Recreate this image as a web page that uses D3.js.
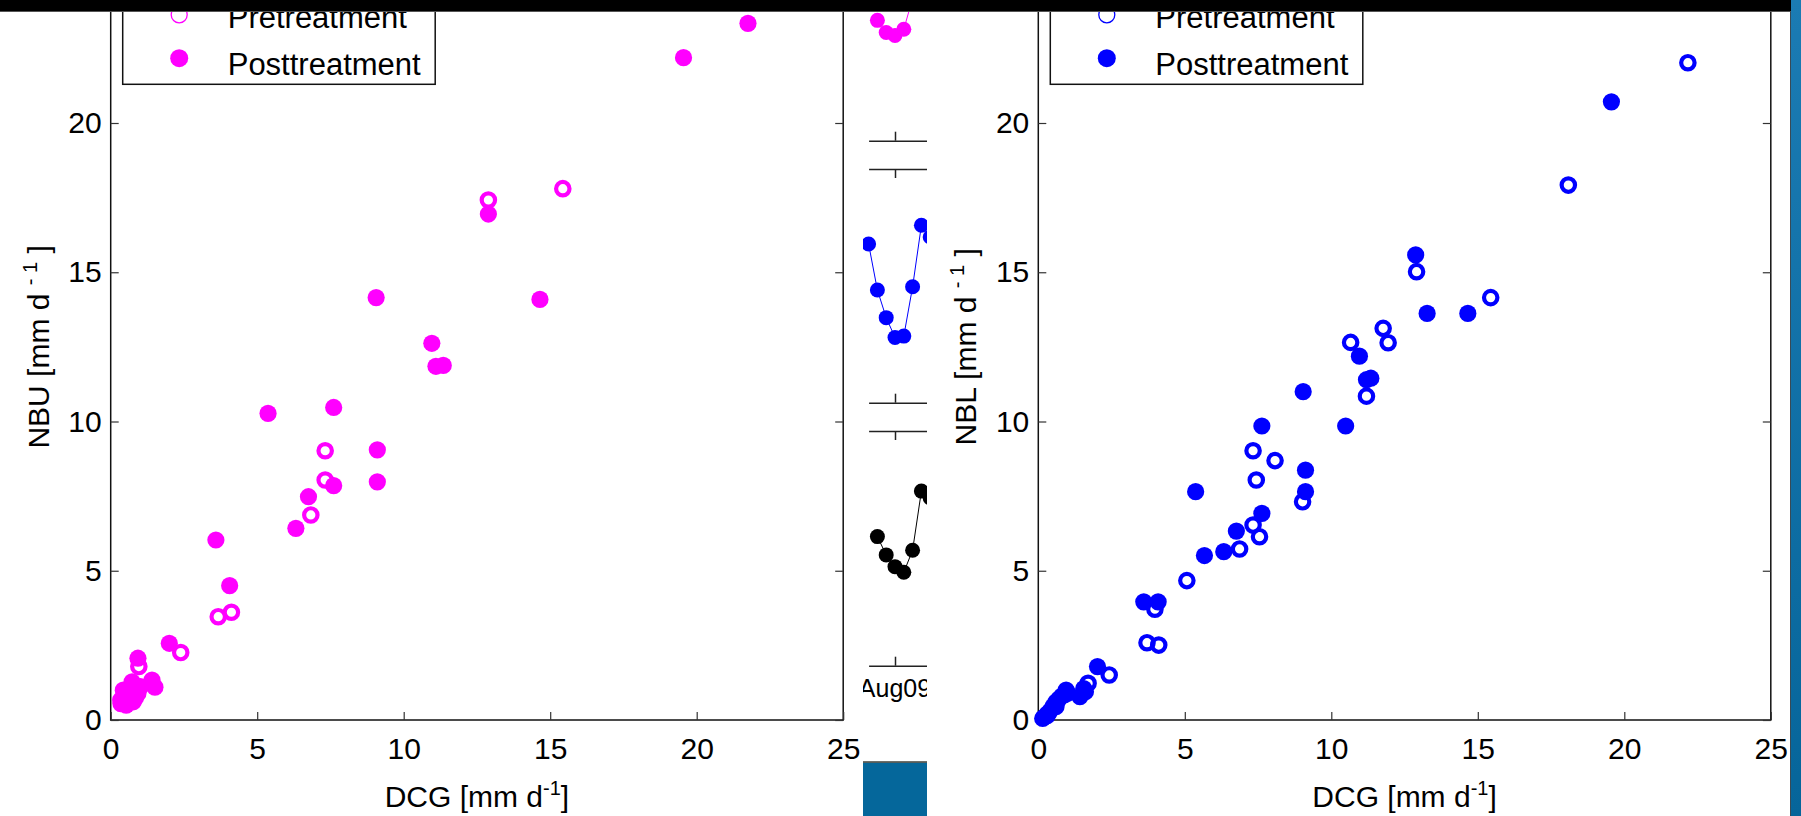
<!DOCTYPE html>
<html>
<head>
<meta charset="utf-8">
<script src="https://cdn.jsdelivr.net/npm/d3@7"></script>
<style>
  body { margin: 0; background: #fff; }
  svg { display: block; font-family: "Liberation Sans", Arial, sans-serif; }
</style>
</head>
<body>
<div id="chart"></div>
<script>
// NBU vs DCG (left panel), [DCG, NBU] in mm/d
const nbuPre = [[12.89,17.42],[15.43,17.80],[7.32,9.02],[7.32,8.04],[6.83,6.87],[3.67,3.46],
  [4.12,3.61],[2.39,2.26],[0.96,1.79]];
const nbuPost = [[21.75,23.34],[19.55,22.19],[12.89,16.95],[9.06,14.15],[14.65,14.09],[10.96,12.62],
  [11.1,11.85],[11.35,11.88],[5.37,10.27],[7.61,10.47],[9.10,9.05],[7.61,7.85],[9.10,7.98],
  [6.75,7.48],[6.32,6.42],[3.59,6.03],[4.06,4.50],[2.00,2.57],[0.93,2.07],[1.41,1.34],[1.51,1.10],
  [0.73,1.28],[0.43,1.0],[0.34,0.67],[0.53,0.50],[0.93,0.89],[0.77,0.61],[1.02,1.12],[0.35,0.55],
  [0.6,0.95],[0.85,0.75]];

// NBL vs DCG (right panel)
const nblPre = [[22.17,22.02],[18.09,17.92],[12.91,15.02],[15.44,14.15],[11.77,13.12],[11.94,12.64],
  [10.66,12.65],[11.2,10.85],[7.33,9.02],[8.08,8.69],[7.44,8.04],[9.02,7.31],[7.33,6.53],[7.55,6.14],
  [6.87,5.73],[5.07,4.67],[3.98,3.71],[3.71,2.59],[4.11,2.51],[2.42,1.51],[1.70,1.23],[0.3,0.15],
  [0.6,0.45],[1.0,0.9]];
const nblPost = [[19.56,20.71],[12.88,15.58],[13.27,13.62],[14.66,13.62],[10.96,12.19],[11.2,11.4],
  [11.35,11.45],[9.04,11.0],[7.63,9.85],[10.49,9.85],[9.12,8.37],[5.37,7.65],[9.12,7.65],[7.63,6.92],
  [6.76,6.33],[6.33,5.64],[5.67,5.51],[3.60,3.96],[4.09,3.96],[2.02,1.79],[1.61,0.95],[1.42,0.78],
  [0.95,1.0],[0.8,0.8],[0.6,0.6],[0.4,0.3],[0.2,0.1],[0.15,0.05],[0.3,0.2],[0.5,0.45],[0.7,0.7],
  [0.9,0.85],[1.55,1.05]];

const xTicks = [0, 5, 10, 15, 20, 25];
const yTicks = [0, 5, 10, 15, 20, 25];
const legendLabels = ["Pretreatment", "Posttreatment"];

// fragment of the time-series figure squeezed in between (index 3 = Aug09 tick)
const stripTickLabels = ["Aug09"];
const magentaIdx = [1, 2, 3, 4, 5];
const magentaVals = [5.15, 4.63, 4.50, 4.77, 6.09];
const blueIdx = [0, 1, 2, 3, 4, 5, 6, 7];
const blueVals = [6.79, 4.82, 3.64, 2.79, 2.85, 4.96, 7.59, 7.09];
const blackIdx = [1, 2, 3, 4, 5, 6, 7];
const blackVals = [5.50, 4.72, 4.22, 3.98, 4.92, 7.44, 7.15];

const W = 1801, H = 816;
const svg = d3.select("#chart").append("svg")
    .attr("width", W)
    .attr("height", H);

svg.append("rect").attr("width", W).attr("height", H).attr("fill", "#fff");

// y scale shared by both scatter panels (top of axes is off screen)
const y = d3.scaleLinear().domain([0, 25]).range([720, 720 - 25 * 29.85]);

function drawPanel(left, pre, post, color, yLabel) {
    const x = d3.scaleLinear().domain([0, 25]).range([left, left + 732.5]);
    const g = svg.append("g");

    // axes box
    g.append("rect")
      .attr("x", x(0)).attr("y", y(25))
      .attr("width", x(25) - x(0)).attr("height", y(0) - y(25))
      .attr("fill", "none").attr("stroke", "#111").attr("stroke-width", 1.5);

    const styleAxis = a => {
        a.select(".domain").remove();
        a.selectAll(".tick line").attr("stroke", "#333").attr("stroke-width", 1.2);
        a.selectAll("text").attr("fill", "#000");
        a.attr("font-size", 30).attr("font-family", null);
    };

    g.append("g")
      .attr("transform", `translate(0,${y(0)})`)
      .call(d3.axisBottom(x).tickValues(xTicks).tickSizeInner(-8).tickSizeOuter(0).tickPadding(18))
      .call(styleAxis);
    g.append("g")
      .attr("transform", `translate(0,${y(25)})`)
      .call(d3.axisTop(x).tickValues(xTicks).tickSizeInner(-8).tickSizeOuter(0).tickFormat(() => ""))
      .call(styleAxis);
    g.append("g")
      .attr("transform", `translate(${x(0)},0)`)
      .call(d3.axisLeft(y).tickValues(yTicks).tickSizeInner(-8).tickSizeOuter(0).tickPadding(9))
      .call(styleAxis);
    g.append("g")
      .attr("transform", `translate(${x(25)},0)`)
      .call(d3.axisRight(y).tickValues(yTicks).tickSizeInner(-8).tickSizeOuter(0).tickFormat(() => ""))
      .call(styleAxis);

    // points: pretreatment open rings, posttreatment filled on top
    g.selectAll(".pre").data(pre).enter().append("circle")
      .attr("cx", d => x(d[0])).attr("cy", d => y(d[1]))
      .attr("r", 6.7).attr("fill", "none")
      .attr("stroke", color).attr("stroke-width", 4.2);
    g.selectAll(".post").data(post).enter().append("circle")
      .attr("cx", d => x(d[0])).attr("cy", d => y(d[1]))
      .attr("r", 8.6).attr("fill", color);

    // x label
    const xl = g.append("text")
      .attr("x", (x(0) + x(25)) / 2).attr("y", 807)
      .attr("text-anchor", "middle").attr("font-size", 30);
    xl.append("tspan").text("DCG [mm d");
    xl.append("tspan").attr("dy", -12).attr("font-size", 20).text("-1");
    xl.append("tspan").attr("dy", 12).text("]");

    // y label
    const yl = g.append("text")
      .attr("transform", `translate(${x(0) - 62},${(y(0) + y(25)) / 2}) rotate(-90)`)
      .attr("text-anchor", "middle").attr("font-size", 30);
    yl.append("tspan").text(yLabel + " [mm d ");
    yl.append("tspan").attr("dy", -12).attr("font-size", 20).text("- 1");
    yl.append("tspan").attr("dy", 12).text(" ]");

    // legend
    const lg = g.append("g").attr("transform", `translate(${x(0) + 12},0)`);
    lg.append("rect")
      .attr("x", 0).attr("y", -20).attr("width", 312.5).attr("height", 104.3)
      .attr("fill", "#fff").attr("stroke", "#111").attr("stroke-width", 1.5);
    const markY = [14.8, 58.2], textY = [28.3, 75];
    legendLabels.forEach((lab, i) => {
        lg.append("circle")
          .attr("cx", 56.5).attr("cy", markY[i]).attr("r", i === 0 ? 8 : 9)
          .attr("fill", i === 0 ? "none" : color)
          .attr("stroke", i === 0 ? color : "none").attr("stroke-width", 1.3);
        lg.append("text")
          .attr("x", 105).attr("y", textY[i])
          .attr("font-size", 31).text(lab);
    });
}

drawPanel(110.7, nbuPre, nbuPost, "#ff00ff", "NBU");
drawPanel(1038.3, nblPre, nblPost, "#0000ff", "NBL");

// ---- cropped strip of the time-series figure ----
const clip = svg.append("clipPath").attr("id", "stripClip");
clip.append("rect").attr("x", 863).attr("y", 11).attr("width", 64).attr("height", 750);

const strip = svg.append("g").attr("clip-path", "url(#stripClip)");
const sx = d3.scaleLinear().domain([0, 7]).range([868.6, 930.2]);
const panels = [
    { top: -93, bottom: 140.7, idx: magentaIdx, vals: magentaVals, color: "#ff00ff" },
    { top: 169, bottom: 402.7, idx: blueIdx, vals: blueVals, color: "#0000ff" },
    { top: 431, bottom: 665.7, idx: blackIdx, vals: blackVals, color: "#000" }
];

panels.forEach(p => {
    const py = d3.scaleLinear().domain([0, 10]).range([p.bottom, p.top]);
    const pts = p.idx.map((d, i) => [d, p.vals[i]]);

    // top and bottom axis lines with inward tick
    strip.append("g")
      .attr("transform", `translate(0,${p.bottom})`)
      .call(d3.axisBottom(sx).tickValues([3]).tickSizeInner(-9).tickSizeOuter(0).tickFormat(() => ""))
      .call(a => a.selectAll("path,line").attr("stroke", "#222").attr("stroke-width", 1.5));
    strip.append("g")
      .attr("transform", `translate(0,${p.top})`)
      .call(d3.axisTop(sx).tickValues([3]).tickSizeInner(-9).tickSizeOuter(0).tickFormat(() => ""))
      .call(a => a.selectAll("path,line").attr("stroke", "#222").attr("stroke-width", 1.5));

    strip.append("path")
      .datum(pts)
      .attr("d", d3.line().x(d => sx(d[0])).y(d => py(d[1])))
      .attr("fill", "none").attr("stroke", p.color).attr("stroke-width", 1);
    strip.selectAll(null).data(pts).enter().append("circle")
      .attr("cx", d => sx(d[0])).attr("cy", d => py(d[1]))
      .attr("r", 7.5).attr("fill", p.color);
});

strip.append("text")
  .attr("x", sx(3)).attr("y", 697)
  .attr("text-anchor", "middle").attr("font-size", 25)
  .text(stripTickLabels[0]);

// blue block under the strip
svg.append("rect").attr("x", 863).attr("y", 761.5).attr("width", 64).attr("height", 60).attr("fill", "#05679b");
svg.append("line").attr("x1", 863).attr("x2", 927).attr("y1", 762).attr("y2", 762)
  .attr("stroke", "#6b5a48").attr("stroke-width", 1.5);

// right blue edge
const grad = svg.append("defs").append("linearGradient")
  .attr("id", "edge").attr("x1", 0).attr("x2", 0).attr("y1", 0).attr("y2", 1);
grad.append("stop").attr("offset", "0%").attr("stop-color", "#1b7bb3");
grad.append("stop").attr("offset", "100%").attr("stop-color", "#06659a");
svg.append("rect").attr("x", 1791).attr("y", 0).attr("width", 10).attr("height", H).attr("fill", "url(#edge)");
svg.append("line").attr("x1", 1790.5).attr("x2", 1790.5).attr("y1", 0).attr("y2", H)
  .attr("stroke", "#3a4a55").attr("stroke-width", 1);

// black bar at the top
svg.append("rect").attr("x", 0).attr("y", 0).attr("width", 1791).attr("height", 11).attr("fill", "#000");
svg.append("line").attr("x1", 0).attr("x2", 1791).attr("y1", 11.5).attr("y2", 11.5)
  .attr("stroke", "#555").attr("stroke-width", 1);
</script>
</body>
</html>
